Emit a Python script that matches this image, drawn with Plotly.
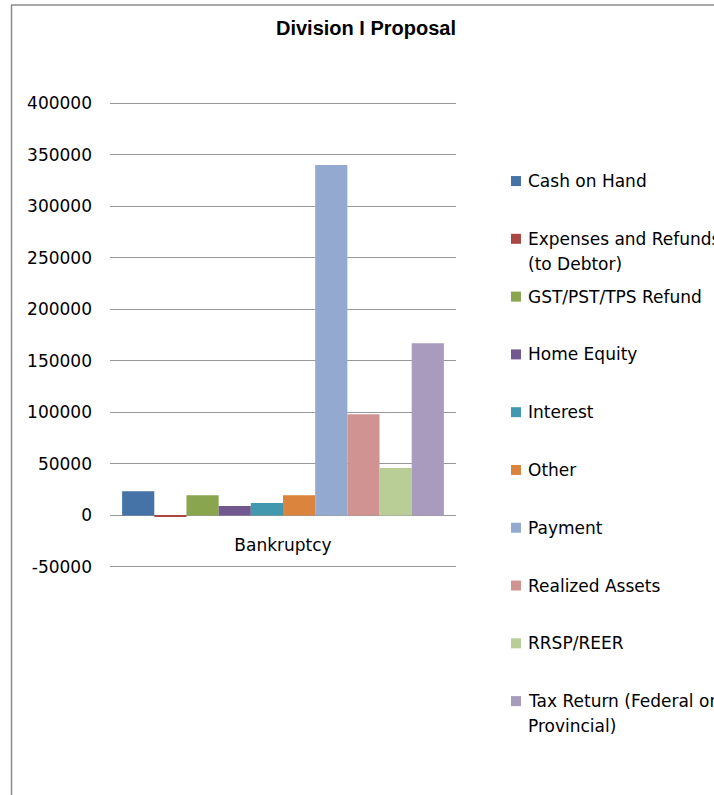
import plotly.graph_objects as go

categories = ["Bankruptcy"]
series_names = [
    "Cash on Hand",
    "Expenses and Refunds<br>(to Debtor)",
    "GST/PST/TPS Refund",
    "Home Equity",
    "Interest",
    "Other",
    "Payment",
    "Realized Assets",
    "RRSP/REER",
    "Tax Return (Federal or<br>Provincial)",
]
series_values = [23500, -1500, 19500, 9000, 12000, 19500, 340000, 98000, 46000, 167000]
series_colors = ["#4572A7", "#AA4643", "#89A54E", "#71588F", "#4198AF",
                 "#DB843D", "#93A9CF", "#D19392", "#B9CD96", "#A99BBD"]
y_ticks = [-50000, 0, 50000, 100000, 150000, 200000, 250000, 300000, 350000, 400000]

W, H = 714, 795
Y_MIN, Y_MAX = -50000, 400000
PAD = 2000  # small extra range so edge gridlines are drawn
px_per_unit = (567 - 103) / (Y_MAX - Y_MIN)
pad_px = PAD * px_per_unit
L, R = 110, 456
T, B = 103 - pad_px, 567 + pad_px


def xp(px):
    return (px - L) / (R - L)


def yp(py):
    return (B - py) / (B - T)


fig = go.Figure()
for name, val, col in zip(series_names, series_values, series_colors):
    fig.add_trace(go.Bar(
        x=categories, y=[val], name=name.replace("<br>", " "),
        marker=dict(color=col, line=dict(width=0)),
        showlegend=False,
    ))

shapes = []
annotations = []
# manual legend
text_font = dict(family="DejaVu Sans", size=17, color="#000000")
for i, (name, col) in enumerate(zip(series_names, series_colors)):
    cy = 181 + i * 57.8
    shapes.append(dict(type="rect", xref="paper", yref="paper",
                       x0=xp(511), x1=xp(521), y0=yp(cy + 5), y1=yp(cy - 5),
                       fillcolor=col, line=dict(width=0)))
    for j, line in enumerate(name.split("<br>")):
        annotations.append(dict(text=line, xref="paper", yref="paper",
                                x=xp(526), y=yp(cy + j * 25), xanchor="left",
                                yanchor="middle", showarrow=False, font=text_font))

# outer border (left and top)
shapes.append(dict(type="line", xref="paper", yref="paper",
                   x0=xp(11.5), x1=xp(11.5), y0=yp(5), y1=yp(800),
                   line=dict(color="#8c8c8c", width=1.5)))
shapes.append(dict(type="line", xref="paper", yref="paper",
                   x0=xp(11), x1=xp(720), y0=yp(5), y1=yp(5),
                   line=dict(color="#8c8c8c", width=1.5)))

fig.update_layout(
    width=W, height=H,
    margin=dict(l=L, r=W - R, t=T, b=H - B, pad=0),
    paper_bgcolor="white", plot_bgcolor="white",
    barmode="group", bargap=0.07, bargroupgap=0,
    title=dict(text="<b>Division I Proposal</b>", x=xp(366), xref="paper",
               xanchor="center", y=1 - 28 / H, yref="container", yanchor="middle",
               font=dict(family="Liberation Sans", size=20, color="#000000")),
    font=text_font,
    shapes=shapes,
    annotations=annotations,
    xaxis=dict(
        type="category", anchor="free",
        position=(0 - (Y_MIN - PAD)) / (Y_MAX - Y_MIN + 2 * PAD),
        showline=False, showgrid=False, ticks="", ticklabelstandoff=18,
        tickfont=dict(family="DejaVu Sans", size=17, color="#000000"),
    ),
    yaxis=dict(
        range=[Y_MIN - PAD, Y_MAX + PAD], tickvals=y_ticks,
        ticktext=[str(v) for v in y_ticks],
        showgrid=True, gridcolor="#999999", gridwidth=1,
        zeroline=True, zerolinecolor="#999999", zerolinewidth=1,
        showline=False, ticks="", ticklabelstandoff=17,
        tickfont=dict(family="DejaVu Sans", size=17, color="#000000"),
    ),
)

fig.write_html("out.html", config={"displayModeBar": False},
               post_script="document.body.style.margin='0';")
